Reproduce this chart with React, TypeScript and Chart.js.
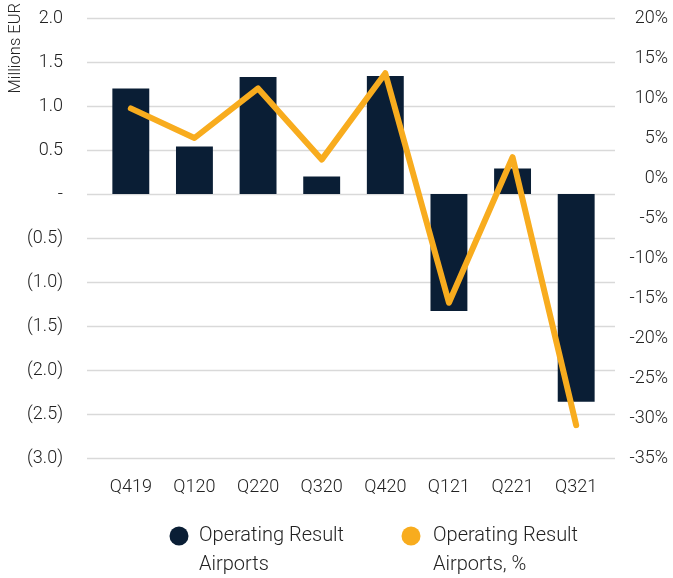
import React, { useEffect, useRef } from "react";
import { Chart, registerables } from "chart.js";

Chart.register(...registerables);

const categories = ["Q419", "Q120", "Q220", "Q320", "Q420", "Q121", "Q221", "Q321"];
const operatingResult = [1.2, 0.54, 1.33, 0.2, 1.34, -1.33, 0.29, -2.36];
const operatingResultPct = [8.7, 5.0, 11.2, 2.3, 13.1, -15.6, 2.6, -30.9];
const leftMin = -3.0;
const leftMax = 2.0;
const leftStep = 0.5;
const rightMin = -35;
const rightMax = 20;
const rightStep = 5;
const yTitle = "Millions EUR";
const legendLines = [
  ["Operating Result", "Airports"],
  ["Operating Result", "Airports, %"],
];

const BAR_COLOR = "#0A1E35";
const LINE_COLOR = "#F8AC1E";
const TEXT_COLOR = "#222222";
const GRID_COLOR = "#d9d9d9";
const FONT_FAMILY = "Roboto, sans-serif";
const TICK_FONT = { family: FONT_FAMILY, size: 18, weight: "300" };

function fmtLeft(v: number): string {
  if (Math.abs(v) < 1e-9) return "-";
  if (v < 0) return "(" + (-v).toFixed(1) + ")";
  return v.toFixed(1);
}

const gridPlugin = {
  id: "customGrid",
  beforeDatasetsDraw(chart: any) {
    const { ctx, chartArea } = chart;
    const ys = chart.scales.y;
    ctx.save();
    ctx.strokeStyle = GRID_COLOR;
    ctx.lineWidth = 1.5;
    ys.ticks.forEach((_t: any, i: number) => {
      const py = Math.round(ys.getPixelForTick(i)) + 0.5;
      ctx.beginPath();
      ctx.moveTo(chartArea.left - 12, py);
      ctx.lineTo(chartArea.right + 7, py);
      ctx.stroke();
    });
    ctx.restore();
  },
};

const extrasPlugin = {
  id: "extras",
  afterDraw(chart: any) {
    const { ctx } = chart;
    ctx.save();
    ctx.fillStyle = TEXT_COLOR;
    ctx.font = "300 16.5px " + FONT_FAMILY;
    ctx.translate(16, 3);
    ctx.rotate(-Math.PI / 2);
    ctx.textAlign = "right";
    ctx.textBaseline = "middle";
    ctx.fillText(yTitle, 0, 0);
    ctx.restore();

    const items = [
      { color: BAR_COLOR, cx: 179, tx: 199 },
      { color: LINE_COLOR, cx: 411, tx: 433 },
    ];
    ctx.save();
    ctx.font = "300 20px " + FONT_FAMILY;
    ctx.textAlign = "left";
    ctx.textBaseline = "middle";
    items.forEach((it, i) => {
      ctx.fillStyle = it.color;
      ctx.beginPath();
      ctx.arc(it.cx, 536, 9.5, 0, Math.PI * 2);
      ctx.fill();
      ctx.fillStyle = TEXT_COLOR;
      legendLines[i].forEach((line, j) => {
        ctx.fillText(line, it.tx, 536 + j * 29);
      });
    });
    ctx.restore();
  },
};

export default function App() {
  const ref = useRef<HTMLCanvasElement | null>(null);
  useEffect(() => {
    document.body.style.margin = "0";
    const canvas = ref.current!;
    const chart = new Chart(canvas, {
      type: "bar",
      data: {
        labels: categories,
        datasets: [
          {
            type: "line",
            label: legendLines[1].join(" "),
            data: operatingResultPct,
            yAxisID: "y1",
            borderColor: LINE_COLOR,
            backgroundColor: LINE_COLOR,
            borderWidth: 6,
            pointRadius: 0,
            tension: 0,
            borderCapStyle: "round",
            borderJoinStyle: "round",
            order: 0,
          } as any,
          {
            type: "bar",
            label: legendLines[0].join(" "),
            data: operatingResult,
            yAxisID: "y",
            backgroundColor: BAR_COLOR,
            barPercentage: 0.58,
            categoryPercentage: 1,
            order: 1,
          },
        ],
      },
      options: {
        animation: false,
        responsive: false,
        devicePixelRatio: 1,
        layout: { padding: { top: 18, right: 5, left: 0, bottom: 0 } },
        plugins: { legend: { display: false }, tooltip: { enabled: false } },
        scales: {
          x: {
            grid: { display: false, drawTicks: false },
            border: { display: false },
            ticks: { color: TEXT_COLOR, font: TICK_FONT, padding: 19 },
            afterFit(s: any) { s.height = 120; },
          },
          y: {
            position: "left",
            min: leftMin,
            max: leftMax,
            grid: { display: false, drawTicks: false },
            border: { display: false },
            ticks: {
              stepSize: leftStep,
              color: TEXT_COLOR,
              font: TICK_FONT,
              padding: 36,
              callback: (v: any) => fmtLeft(Number(v)),
            },
            afterFit(s: any) {
              s.width = 99;
              s.paddingTop = 10;
              s.paddingBottom = 10;
            },
          },
          y1: {
            position: "right",
            min: rightMin,
            max: rightMax,
            grid: { display: false, drawTicks: false },
            border: { display: false },
            ticks: {
              stepSize: rightStep,
              color: TEXT_COLOR,
              font: TICK_FONT,
              crossAlign: "far",
              callback: (v: any) => v + "%",
            },
            afterFit(s: any) {
              s.width = 60;
              s.paddingTop = 10;
              s.paddingBottom = 10;
            },
          },
        },
      } as any,
      plugins: [gridPlugin, extrasPlugin],
    });
    return () => chart.destroy();
  }, []);
  return (
    <div style={{ width: 673, height: 578 }}>
      <canvas ref={ref} width={673} height={578} style={{ display: "block" }} />
    </div>
  );
}
